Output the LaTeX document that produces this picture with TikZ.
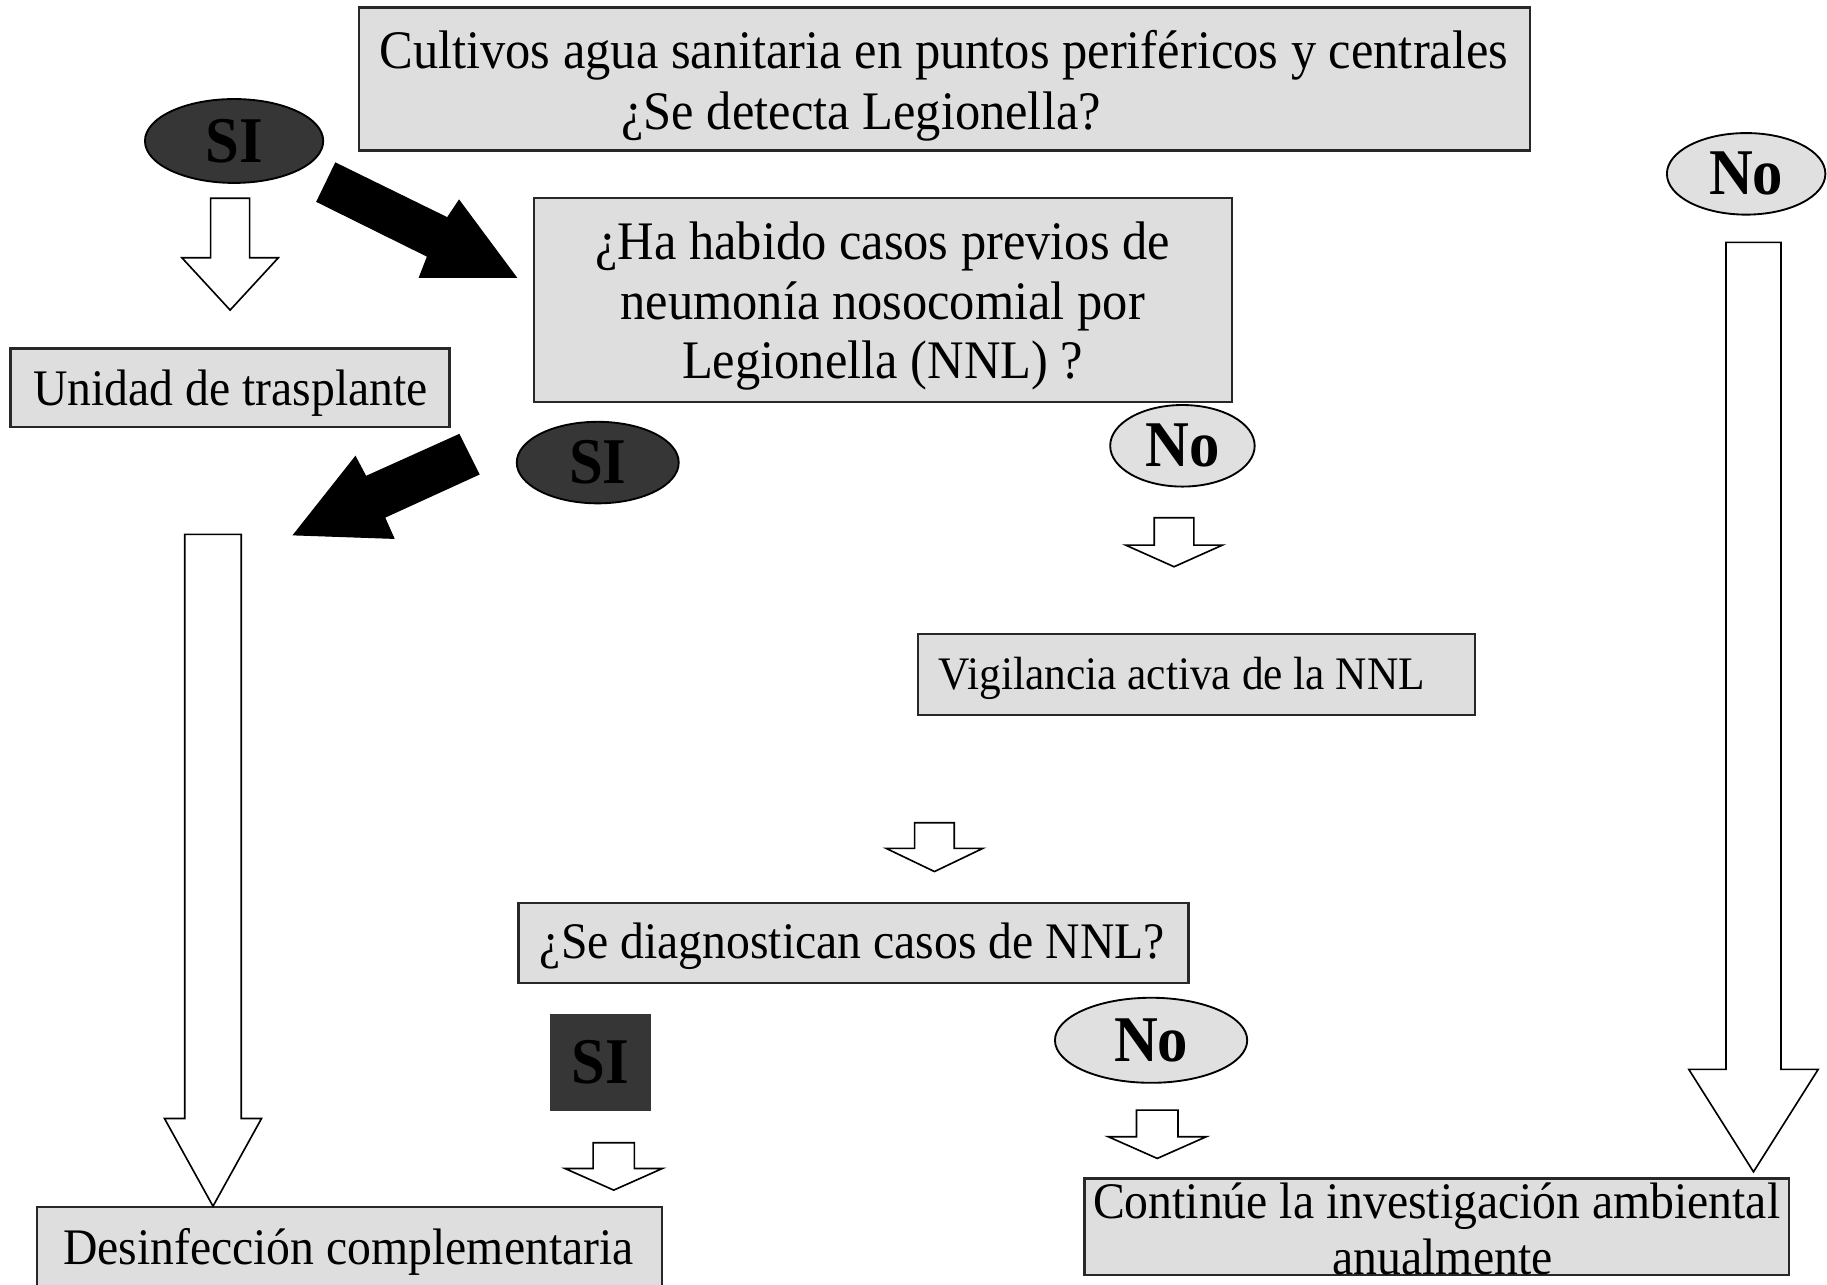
\documentclass[tikz,border=0pt]{standalone}
\usepackage{fontspec}
\setmainfont{Liberation Serif}[FakeStretch=0.93]
\usetikzlibrary{shapes.geometric}
\definecolor{boxgray}{RGB}{222,222,222}
\definecolor{darkfill}{RGB}{54,54,54}
\definecolor{lightfill}{RGB}{224,224,224}
\definecolor{edgegray}{RGB}{40,40,40}
% x centre, top, head base, tip, shaft half width, head half width
\newcommand\blockdown[6]{%
  \draw[hollow] (#1-#5,#2) -- (#1+#5,#2) -- (#1+#5,#3) -- (#1+#6,#3) -- (#1,#4)
    -- (#1-#6,#3) -- (#1-#5,#3) -- cycle;}
\begin{document}
\begin{tikzpicture}[x=0.5pt,y=-0.5pt,
  box/.style={rectangle, draw=edgegray, line width=1pt, fill=boxgray, inner sep=0pt},
  txt/.style={anchor=base, inner sep=0pt, font=\fontsize{22}{26}\selectfont},
  bigtxt/.style={anchor=base, inner sep=0pt, font=\fontsize{23.3}{27}\selectfont},
  lbl/.style={font=\fontsize{28}{30}\selectfont\bfseries, inner sep=0pt},
  darkell/.style={ellipse, draw=black, line width=0.8pt, fill=darkfill, inner sep=0pt},
  lightell/.style={ellipse, draw=black, line width=0.8pt, fill=lightfill, inner sep=0pt},
  hollow/.style={draw=black, line width=0.7pt, fill=white, line join=miter},
  solidarrow/.style={fill=black, draw=black, line width=0.5pt, line join=miter}]
\useasboundingbox (0,0) rectangle (1568,1102);
\clip (0,0) rectangle (1568,1102);
\fill[white] (0,0) rectangle (1568,1102);

% boxes
\node[box, minimum width=502.5pt, minimum height=61.5pt] (top) at (810.5,67.8) {};
\node[bigtxt] (topa) at (810,59) {Cultivos agua sanitaria en puntos periféricos y centrales};
\node[bigtxt] (topb) at (739,111) {¿Se detecta Legionella?};

\node[box, minimum width=299.65pt, minimum height=87.3pt] (prev) at (757.9,257.5) {};
\node[bigtxt] (preva) at (757.5,223) {¿Ha habido casos previos de};
\node[bigtxt] (prevb) at (757.5,274) {neumonía nosocomial por};
\node[bigtxt] (prevc) at (757.5,325) {Legionella (NNL) ?};

\node[box, minimum width=188.45pt, minimum height=33.6pt] (unidad) at (197.35,332.6) {};
\node[txt] (unidadt) at (198,348) {Unidad de trasplante};

\node[box, minimum width=238.95pt, minimum height=34.65pt] (vigil) at (1026.65,579.05) {};
\node[txt, anchor=base west, font=\fontsize{20}{24}\selectfont] (vigilt) at (805.4,592) {Vigilancia activa de la NNL};

\node[box, minimum width=287.55pt, minimum height=34.3pt] (diag) at (732.45,809.1) {};
\node[txt] (diagt) at (731.5,823) {¿Se diagnostican casos de NNL?};

\node[box, minimum width=268.05pt, minimum height=47.15pt] (desinf) at (300.05,1082.85) {};
\node[txt] (desinft) at (299,1085) {Desinfección complementaria};

\node[box, minimum width=302.2pt, minimum height=41.5pt] (contin) at (1233,1052.9) {};
\node[txt] (contina) at (1233,1046) {Continúe la investigación ambiental};
\node[txt] (continb) at (1238,1094) {anualmente};

% answer labels
\node[darkell, lbl, minimum width=76.5pt, minimum height=36pt] (si1) at (200.9,121) {SI};
\node[darkell, lbl, minimum width=69.5pt, minimum height=35pt] (si2) at (513,397) {SI};
\node[lightell, lbl, minimum width=68pt, minimum height=35pt] (no1) at (1498.6,149.2) {No};
\node[lightell, lbl, minimum width=62pt, minimum height=35pt] (no2) at (1014.8,382.6) {No};
\node[lightell, lbl, minimum width=82.5pt, minimum height=36.5pt] (no3) at (987.9,892.8) {No};
\node[rectangle, fill=darkfill, lbl, minimum width=43.15pt, minimum height=41.5pt] (si3) at (515.2,911.8) {SI};

% black arrows
\draw[solidarrow] (288,140) -- (384,187) -- (394,172) -- (443,238) -- (360,238) -- (367,220) -- (272,173) -- cycle;
\draw[solidarrow] (394,373) -- (314,409) -- (305,392) -- (252,459) -- (338,462) -- (330,444) -- (411,407) -- cycle;

% hollow arrows
\blockdown{197.5}{170.2}{221.2}{266.1}{16.75}{41.4}
\blockdown{1007.6}{444.3}{467.8}{486.4}{17}{41.6}
\blockdown{802}{706.1}{728.1}{748}{17}{41.5}
\blockdown{526.7}{980.7}{1002.8}{1021.4}{17.7}{41.9}
\blockdown{993.2}{952.7}{975.6}{994.2}{17.8}{42}
\blockdown{182.8}{458.6}{959.9}{1035.2}{24.2}{41.65}
\blockdown{1504.9}{208}{917.8}{1005.7}{23.6}{55.5}
\end{tikzpicture}
\end{document}
